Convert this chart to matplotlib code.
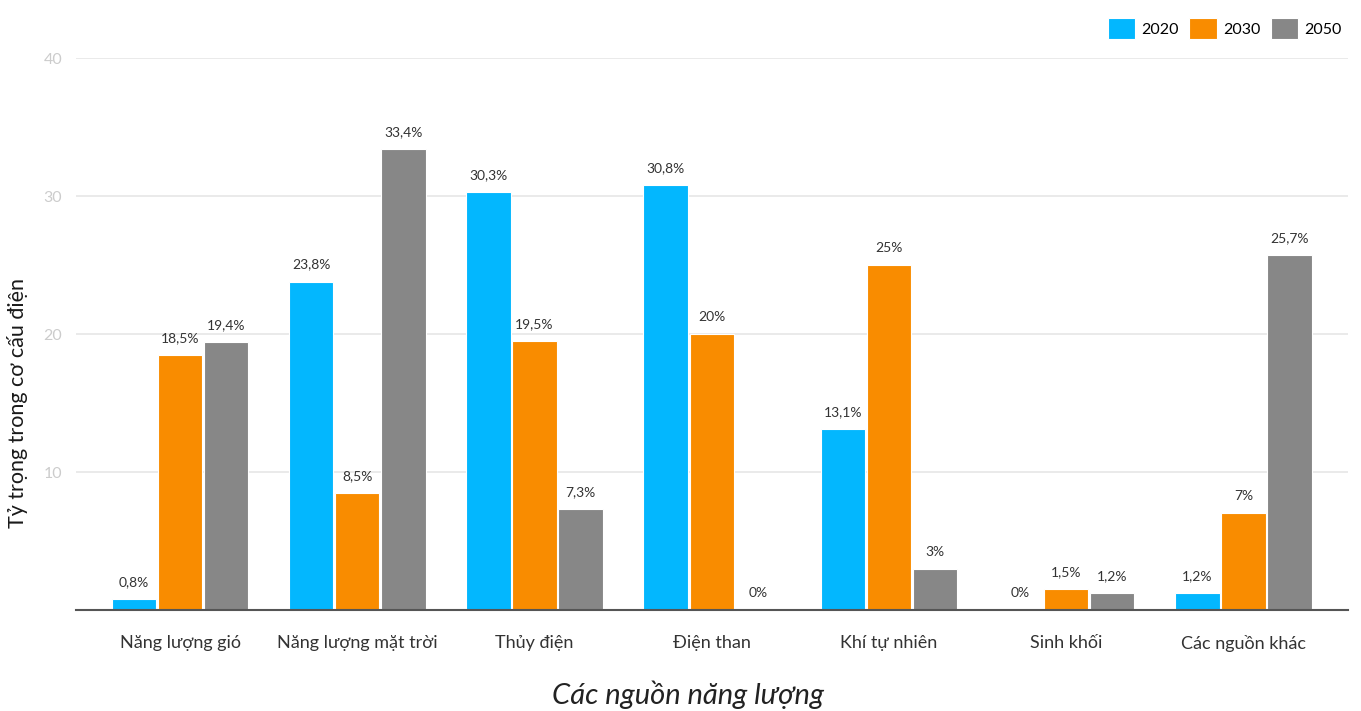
import matplotlib
matplotlib.use('Agg')
import matplotlib.pyplot as plt
import numpy as np

plt.rcParams['font.family'] = ['Lato', 'Noto Sans', 'DejaVu Sans']

categories = ['Năng lượng gió', 'Năng lượng mặt trời', 'Thủy điện', 'Điện than',
              'Khí tự nhiên', 'Sinh khối', 'Các nguồn khác']
years = ['2020', '2030', '2050']
v2020 = [0.8, 23.8, 30.3, 30.8, 13.1, 0.0, 1.2]
v2030 = [18.5, 8.5, 19.5, 20.0, 25.0, 1.5, 7.0]
v2050 = [19.4, 33.4, 7.3, 0.0, 3.0, 1.2, 25.7]
colors = ['#03b7fe', '#f98c00', '#878787']

fig = plt.figure(figsize=(13.61, 7.11), dpi=100)
ax = fig.add_axes([76 / 1361, 101 / 711, 1272 / 1361, 552 / 711])

x = np.arange(len(categories))
w = 0.25
off = 0.26
for i, (vals, c, yr) in enumerate(zip([v2020, v2030, v2050], colors, years)):
    pos = x + (i - 1) * off
    ax.bar(pos, vals, width=w, color=c, edgecolor='white', linewidth=0.8, label=yr, zorder=3)
    for p, v in zip(pos, vals):
        s = ('%g' % v).replace('.', ',') + '%'
        ax.text(p, v + 0.8, s, ha='center', va='bottom', fontsize=10, color='#333333', zorder=4)

ax.set_xlim(-0.587, 6.59)
ax.set_ylim(0, 40)
ax.set_yticks([10, 20, 30, 40])
ax.yaxis.grid(True, color='#e6e6e6', linewidth=1.2, zorder=0)
ax.tick_params(axis='y', length=0, labelsize=11.5, labelcolor='#cccccc', pad=10)
ax.tick_params(axis='x', length=0, labelsize=13, labelcolor='#333333', pad=18)
ax.set_xticks(x)
ax.set_xticklabels(categories)
for side in ['top', 'right', 'left']:
    ax.spines[side].set_visible(False)
ax.spines['bottom'].set_color('#555555')
ax.spines['bottom'].set_linewidth(1.5)
ax.spines['bottom'].set_zorder(5)

# axis title kept fully inside the canvas
ax.set_xlabel('Các nguồn năng lượng', fontsize=21, style='italic', color='#222222')
ax.xaxis.label.set_va('center')
ax.xaxis.set_label_coords(0.481, -0.154)
ax.set_ylabel('Tỷ trọng trong cơ cấu điện', fontsize=15.5, color='#1a1a1a')
ax.yaxis.label.set_va('center')
ax.yaxis.set_label_coords(-0.046, 0.375)

ax.legend(loc='lower right', bbox_to_anchor=(1.0, 1.022), ncol=3, frameon=False,
          fontsize=11.5, handlelength=1.7, handleheight=1.7, handletextpad=0.4,
          columnspacing=0.65, borderaxespad=0)

fig.savefig('out.png', dpi=100)
